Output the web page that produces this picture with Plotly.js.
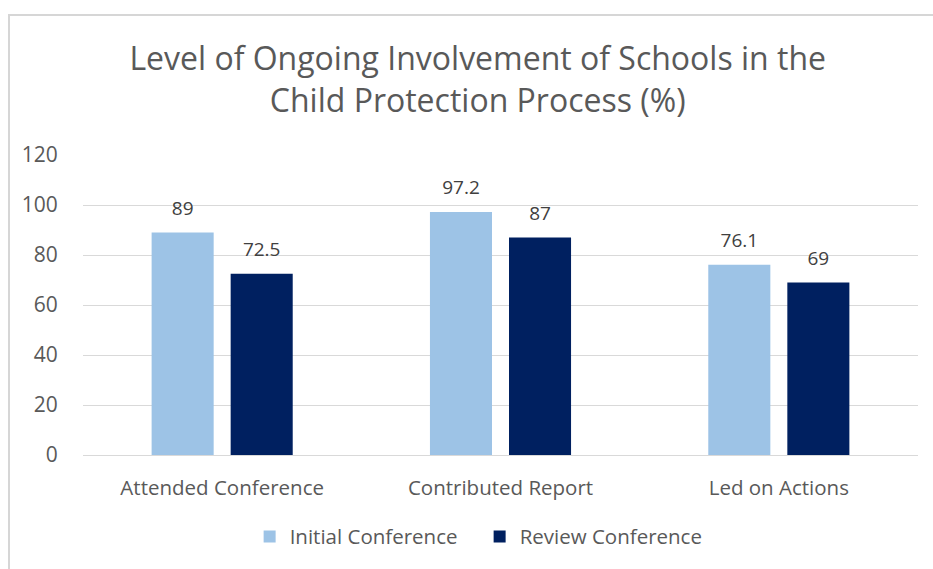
<!DOCTYPE html>
<html>
<head>
<meta charset="utf-8">
<script src="https://cdn.plot.ly/plotly-3.0.1.min.js"></script>
<style>
  html, body { margin: 0; padding: 0; background: #ffffff; }
  #wrap { position: relative; width: 933px; height: 569px; overflow: hidden; }
  #frame { position: absolute; left: 8px; top: 14px; width: 1000px; height: 1000px;
           border-top: 2px solid #d6d6d6; border-left: 2px solid #d6d6d6; pointer-events: none; }
  #chart { position: absolute; left: 0; top: 0; width: 933px; height: 569px; }
</style>
</head>
<body>
<div id="wrap">
  <div id="chart"></div>
  <div id="frame"></div>
</div>
<script>
const categories = ["Attended Conference", "Contributed Report", "Led on Actions"];
const initialConference = [89, 97.2, 76.1];
const reviewConference = [72.5, 87, 69];
const seriesNames = ["Initial Conference", "Review Conference"];
const yTicks = [0, 20, 40, 60, 80, 100, 120];

const FONT = "'Open Sans', sans-serif";
const LABEL_TPL = "<span style='font-size:19px'>%{text}</span><br> ";

const traces = [
  {
    type: "bar", name: seriesNames[0], x: categories, y: initialConference,
    marker: { color: "#9dc3e6" },
    text: initialConference.map(String),
    texttemplate: LABEL_TPL,
    textposition: "outside",
    textfont: { family: FONT, size: 9, color: "#404040" },
    cliponaxis: false
  },
  {
    type: "bar", name: seriesNames[1], x: categories, y: reviewConference,
    marker: { color: "#002060" },
    text: reviewConference.map(String),
    texttemplate: LABEL_TPL,
    textposition: "outside",
    textfont: { family: FONT, size: 9, color: "#404040" },
    cliponaxis: false
  }
];

const layout = {
  width: 933, height: 569,
  margin: { l: 83, r: 15, t: 155, b: 112 },
  paper_bgcolor: "rgba(0,0,0,0)",
  plot_bgcolor: "rgba(0,0,0,0)",
  font: { family: FONT, color: "#595959" },
  title: {
    text: "Level of Ongoing Involvement of Schools in the<br>Child Protection Process (%)",
    font: { family: FONT, size: 32, color: "#595959" },
    xref: "container", yref: "container",
    x: 0.512, xanchor: "center", y: 0.877, yanchor: "top"
  },
  barmode: "group",
  bargap: 0.432,
  bargroupgap: 0.215,
  xaxis: {
    type: "category",
    showgrid: false,
    showline: true, linecolor: "#d9d9d9", linewidth: 1,
    ticks: "outside", ticklen: 14, tickcolor: "rgba(0,0,0,0)",
    tickfont: { family: FONT, size: 20.5, color: "#595959" },
    automargin: false
  },
  yaxis: {
    range: [0, 120],
    tickvals: yTicks,
    ticktext: yTicks.map(String),
    showgrid: true, gridcolor: "#d9d9d9", gridwidth: 1,
    zeroline: false, showline: false,
    ticks: "outside", ticklen: 20, tickcolor: "rgba(0,0,0,0)",
    tickfont: { family: FONT, size: 21, color: "#595959" },
    automargin: false
  },
  showlegend: true,
  legend: {
    orientation: "h",
    x: 0.475, xanchor: "center",
    y: -0.272, yanchor: "middle",
    font: { family: FONT, size: 20.5, color: "#595959" },
    entrywidth: 185, entrywidthmode: "pixels",
    traceorder: "normal"
  }
};

Plotly.newPlot("chart", traces, layout, { displayModeBar: false, staticPlot: true });
</script>
</body>
</html>
